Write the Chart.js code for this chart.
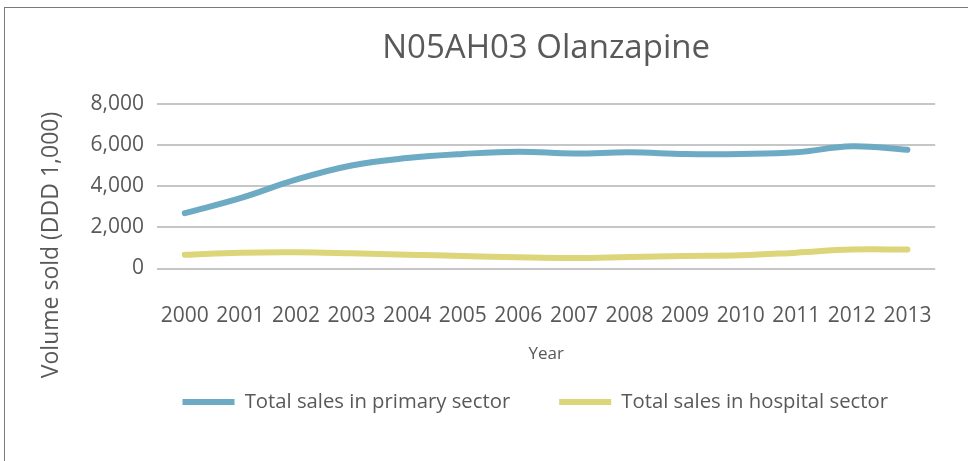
<!DOCTYPE html>
<html>
<head>
<meta charset="utf-8">
<script src="https://cdn.jsdelivr.net/npm/chart.js@4.4.1/dist/chart.umd.min.js"></script>
<style>
  html, body { margin: 0; padding: 0; background: #ffffff; }
  #wrap { position: relative; width: 968px; height: 461px; overflow: hidden; }
  #frame { position: absolute; left: 4px; top: 7px; width: 1200px; height: 800px;
           border-top: 1px solid #7a7a7a; border-left: 1px solid #7a7a7a; }
  canvas { position: absolute; left: 0; top: 0; }
</style>
</head>
<body>
<div id="wrap">
  <div id="frame"></div>
  <canvas id="c" width="968" height="461"></canvas>
</div>
<script>
const years = ["2000","2001","2002","2003","2004","2005","2006","2007","2008","2009","2010","2011","2012","2013"];
const primarySector = [2690, 3420, 4320, 5010, 5370, 5570, 5680, 5590, 5650, 5570, 5570, 5650, 5940, 5770];
const hospitalSector = [670, 770, 790, 740, 670, 610, 545, 510, 560, 610, 640, 770, 920, 920];
const seriesNames = ["Total sales in primary sector", "Total sales in hospital sector"];
const chartTitle = "N05AH03 Olanzapine";
const xTitle = "Year";
const yTitle = "Volume sold (DDD 1,000)";

const FONT = "'Open Sans', sans-serif";
const TEXT = "#595959";

const yTitlePlugin = {
  id: 'yTitleText',
  afterDraw(chart, args, opts) {
    const ctx = chart.ctx;
    const area = chart.chartArea;
    ctx.save();
    ctx.translate(opts.x, area.top + opts.dy);
    ctx.rotate(-Math.PI / 2);
    ctx.font = opts.size + "px " + FONT;
    ctx.fillStyle = TEXT;
    ctx.textAlign = 'center';
    ctx.textBaseline = 'middle';
    ctx.fillText(opts.text, 0, 0);
    ctx.restore();
  }
};

new Chart(document.getElementById('c'), {
  type: 'line',
  data: {
    labels: years,
    datasets: [
      { label: seriesNames[0], data: primarySector, borderColor: '#6DAAC4', backgroundColor: '#6DAAC4',
        borderWidth: 6, pointRadius: 0, tension: 0.4, borderCapStyle: 'round', borderJoinStyle: 'round', fill: false },
      { label: seriesNames[1], data: hospitalSector, borderColor: '#DCD579', backgroundColor: '#DCD579',
        borderWidth: 6, pointRadius: 0, tension: 0.4, borderCapStyle: 'round', borderJoinStyle: 'round', fill: false }
    ]
  },
  plugins: [yTitlePlugin],
  options: {
    responsive: false,
    animation: false,
    events: [],
    layout: { padding: { left: 88, right: 31, top: 0, bottom: 38.85 } },
    plugins: {
      title: {
        display: true, text: chartTitle, color: TEXT, fullSize: false,
        font: { family: FONT, size: 33, weight: 'normal' },
        padding: { top: 29.2, bottom: 35.2 }
      },
      legend: {
        display: true, position: 'bottom', align: 'end',
        labels: {
          usePointStyle: true, pointStyle: 'line', pointStyleWidth: 52,
          color: TEXT, font: { family: FONT, size: 20.3 }, padding: 49
        }
      },
      tooltip: { enabled: false },
      yTitleText: { text: yTitle, x: 51, dy: 141, size: 23 }
    },
    scales: {
      x: {
        type: 'category', offset: true,
        grid: { display: false, drawTicks: false },
        border: { display: false },
        ticks: { color: TEXT, font: { family: FONT, size: 21 }, padding: 35.4, maxRotation: 0, autoSkip: false },
        title: { display: true, text: xTitle, color: TEXT, font: { family: FONT, size: 17 },
                 padding: { top: -20.2, bottom: -21.85 } }
      },
      y: {
        min: 0, max: 8000,
        grid: { color: '#c6c6c6', lineWidth: 2, drawTicks: false },
        border: { display: false },
        ticks: { stepSize: 2000, color: TEXT, font: { family: FONT, size: 21 }, padding: 13,
                 callback: v => v.toLocaleString('en-US') },
        afterFit(scale) { scale.width = 69; }
      }
    }
  }
});
</script>
</body>
</html>
